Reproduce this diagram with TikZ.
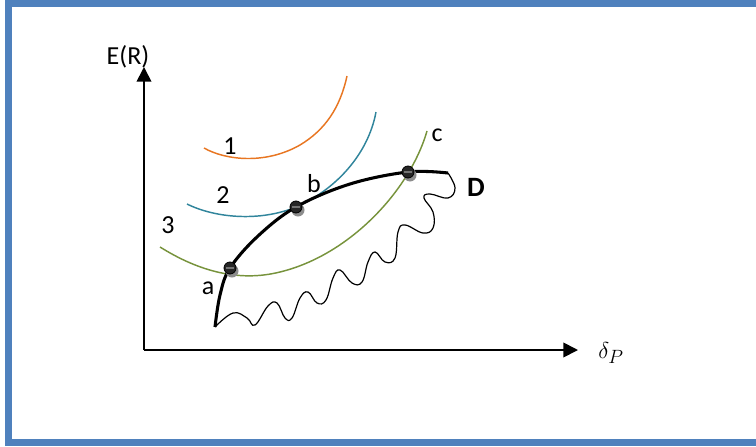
\documentclass[tikz,border=0pt]{standalone}
\usepackage{fontspec}
\setmainfont{Carlito}
\usetikzlibrary{arrows.meta}
\definecolor{frameblue}{RGB}{79,129,189}
\definecolor{curveorange}{RGB}{232,118,34}
\definecolor{curveteal}{RGB}{49,133,156}
\definecolor{curvegreen}{RGB}{119,147,60}
\tikzset{
  axis/.style={line width=1.3pt, -{Triangle[length=11pt,width=11pt]}},
  indiff/.style={line width=1.1pt},
  frontier/.style={line width=2.3pt},
  wave/.style={line width=0.9pt},
  lbl/.style={font=\fontsize{19.5}{23}\selectfont, inner sep=0pt},
  dotshadow/.style={fill=black!45, draw=none},
  dotball/.style={fill=black!85, draw=black, line width=0.6pt},
}
\begin{document}
\begin{tikzpicture}[x=0.75pt,y=-0.75pt]
\useasboundingbox (0,0) rectangle (756,446);
% frame
\fill[frameblue] (5,0) rectangle (756,7);
\fill[frameblue] (5,0) rectangle (12,446);
\fill[frameblue] (5,439) rectangle (756,446);
% axes
\coordinate (O) at (144,350);
\coordinate (Ytip) at (144,67);
\coordinate (Xtip) at (578,350);
\draw[axis] (O) -- (Ytip);
\draw[axis] (O) -- (Xtip);
\node[lbl] (ER) at (128,57) {E(R)};
\node[inner sep=0pt, font=\fontsize{19}{22}\selectfont] (dp) at (611,353) {$\delta_P$};
% indifference curves
\draw[indiff, curveorange] (204,148) .. controls (225,160) and (265,165) .. (300,145) .. controls (325,130) and (340,108) .. (347,76);
\draw[indiff, curveteal] (187,204) .. controls (215,218) and (260,222) .. (296,207) .. controls (335,190) and (368,155) .. (376,112);
\draw[indiff, curvegreen] (160,247) .. controls (200,272) and (240,282) .. (280,272) .. controls (350,255) and (410,190) .. (427,131);
% wavy boundary
\draw[wave] plot[smooth, tension=0.7] coordinates {(448,173) (455,188) (448,198) (430,194) (424,198) (433,212) (433,228) (423,233) (405,225) (398,232) (395,258) (385,262) (375,252) (368,262) (362,282) (352,283) (340,270) (333,278) (326,300) (317,303) (308,292) (300,298) (292,318) (285,318) (277,303) (268,306) (255,325) (247,318) (233,313) (215,327)};
% efficient frontier
\draw[frontier] plot[smooth, tension=0.6] coordinates {(215,327) (220,295) (230,268) (258,236) (296,207) (350,184) (408,172) (448,173)};
% points
\foreach \n/\p in {a/{(230,268)}, b/{(296,207)}, c/{(408,172)}} {
  \fill[dotshadow] \p ++(2,3) circle (6.5);
  \fill[dotball] \p circle (6);
  \draw[black!55, line width=0.8pt] \p ++(-4,0) -- ++(8,0);
}
% labels
\node[lbl] (l1) at (230,146) {1};
\node[lbl] (l2) at (223,195) {2};
\node[lbl] (l3) at (168,225) {3};
\node[lbl] (la) at (208,288) {a};
\node[lbl] (lb) at (314,184) {b};
\node[lbl] (lc) at (437,135) {c};
\node[lbl, font=\fontsize{21}{24}\selectfont\bfseries] (lD) at (476,187) {D};
\end{tikzpicture}
\end{document}
